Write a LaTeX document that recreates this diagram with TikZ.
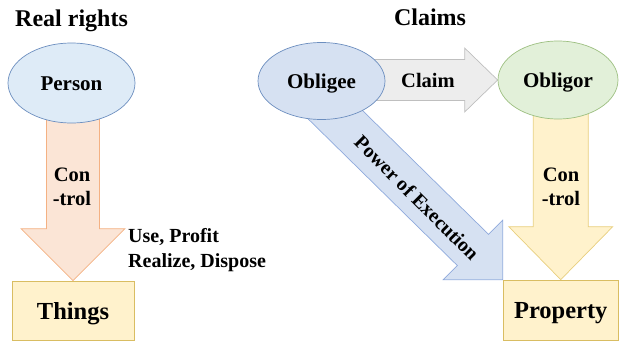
\documentclass[tikz,border=0pt]{standalone}
\usepackage{fontspec}
\setmainfont{Liberation Serif}
\usetikzlibrary{calc,shapes.geometric}
\pgfdeclarelayer{background}
\pgfsetlayers{background,main}
\definecolor{personfill}{HTML}{DEEBF7}
\definecolor{bluefill}{HTML}{D6E1F2}
\definecolor{blueline}{HTML}{6C8EBF}
\definecolor{powerline}{HTML}{8FAADC}
\definecolor{greenfill}{HTML}{E2F0D9}
\definecolor{greenline}{HTML}{9CBF80}
\definecolor{orangefill}{HTML}{FBE5D6}
\definecolor{orangeline}{HTML}{F4B183}
\definecolor{yellowfill}{HTML}{FFF2CC}
\definecolor{yellowline}{HTML}{E8CF7E}
\definecolor{boxline}{HTML}{D9BD62}
\definecolor{grayfill}{HTML}{EDEDED}
\definecolor{grayline}{HTML}{BFBFBF}
\begin{document}
\begin{tikzpicture}[x=1pt,y=-1pt,
  ell/.style={ellipse, inner sep=0pt, line width=0.7pt, text height=14pt, text depth=0pt,
    font=\fontsize{21}{24}\selectfont\bfseries},
  thingbox/.style={rectangle, draw=boxline, fill=yellowfill, line width=0.7pt, inner sep=0pt,
    text height=17pt, text depth=0pt, font=\fontsize{24.5}{28}\selectfont\bfseries},
  title/.style={inner sep=0pt, font=\fontsize{24}{28}\selectfont\bfseries},
  lbl/.style={inner sep=0pt, font=\fontsize{20.5}{24}\selectfont\bfseries},
  blockarrow/.style={line width=0.7pt, line join=miter}
]
\useasboundingbox (0,0) rectangle (619,343);

% titles
\node[title, anchor=base west] (t1) at (15,26) {Real rights};
\node[title, anchor=base] (t2) at (430,25.5) {Claims};

% ellipses
\node[ell, fill=personfill, draw=blueline, minimum width=127pt, minimum height=80pt] (person) at (71.5,83) {Person};
\node[ell, fill=bluefill, draw=blueline, minimum width=127pt, minimum height=77pt] (obligee) at (321.5,81) {Obligee};
\node[ell, fill=greenfill, draw=greenline, minimum width=120pt, minimum height=78pt] (obligor) at (558,80) {Obligor};

% boxes
\node[thingbox, minimum width=122pt, minimum height=59pt] (things) at (73,310.5) {Things};
\node[thingbox, minimum width=115.5pt, minimum height=60pt] (property) at (560.75,310) {Property};

% block arrows (behind the nodes)
\begin{pgfonlayer}{background}
% control, left
\draw[blockarrow, fill=orangefill, draw=orangeline]
  ($(person.center -| things.north)+(-26.5,0)$) -- ($(things.north)+(-26.5,-52)$)
  -- ($(things.north)+(-52,-52)$) -- (things.north) -- ($(things.north)+(52,-52)$)
  -- ($(things.north)+(26.5,-52)$) -- ($(person.center -| things.north)+(26.5,0)$) -- cycle;
% control, right
\draw[blockarrow, fill=yellowfill, draw=yellowline]
  ($(obligor.center -| property.north)+(-27.5,0)$) -- ($(property.north)+(-27.5,-53)$)
  -- ($(property.north)+(-52,-53)$) -- (property.north) -- ($(property.north)+(52,-53)$)
  -- ($(property.north)+(27.5,-53)$) -- ($(obligor.center -| property.north)+(27.5,0)$) -- cycle;
% claim
\draw[blockarrow, fill=grayfill, draw=grayline]
  ($(obligee.center |- obligor.west)+(0,-20.5)$) -- ($(obligor.west)+(-33,-20.5)$)
  -- ($(obligor.west)+(-33,-32)$) -- (obligor.west) -- ($(obligor.west)+(-33,32)$)
  -- ($(obligor.west)+(-33,20.5)$) -- ($(obligee.center |- obligor.west)+(0,20.5)$) -- cycle;
% power of execution
\coordinate (pstart) at ($(obligee.center)+(-21.5,-1)$);
\coordinate (ptip) at (property.north west);
\draw[blockarrow, fill=bluefill, draw=powerline]
  ($(pstart)+(15.6,-15.6)$) -- ($(ptip)+(-29.7,-29.7)+(15.6,-15.6)$)
  -- ($(ptip)+(-29.7,-29.7)+(29.7,-29.7)$) -- (ptip)
  -- ($(ptip)+(-29.7,-29.7)+(-29.7,29.7)$) -- ($(ptip)+(-29.7,-29.7)+(-15.6,15.6)$)
  -- ($(pstart)+(-15.6,15.6)$) -- cycle;
\end{pgfonlayer}

% arrow labels
\node[lbl, align=center, font=\fontsize{20.5}{24}\selectfont\bfseries] (ctl1) at (72,187) {Con\\-trol};
\node[lbl, align=center, font=\fontsize{20.5}{24}\selectfont\bfseries] (ctl2) at (561,187) {Con\\-trol};
\node[lbl, anchor=base] (claim) at (428,87) {Claim};
\node[lbl, rotate=-45, font=\fontsize{20}{24}\selectfont\bfseries] (power) at (417,198) {Power of Execution};
\node[inner sep=0pt, anchor=north west, align=left, font=\fontsize{20}{25}\selectfont\bfseries] (uses) at (128,228.5) {Use, Profit\\Realize, Dispose};
\end{tikzpicture}
\end{document}
